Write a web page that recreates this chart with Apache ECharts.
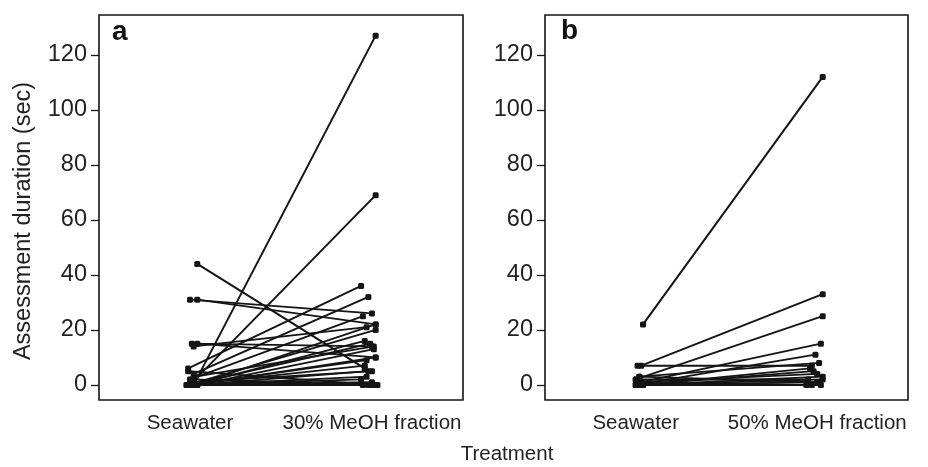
<!DOCTYPE html>
<html>
<head>
<meta charset="utf-8">
<script src="https://cdn.jsdelivr.net/npm/echarts@6/dist/echarts.min.js"></script>
<style>
  html, body { margin: 0; padding: 0; background: #fff; }
  #chart { width: 928px; height: 467px; }
</style>
</head>
<body>
<div id="chart"></div>
<script>
// panel a: seawater vs 30% MeOH fraction (one entry per animal)
const seawaterA = [0, 0, 44, 31, 31, 15, 15, 14, 6, 4, 2, 0, 0, 0, 0, 0, 0, 0, 0, 0, 0, 0, 0, 2, 1, 0, 3, 0, 5, 0];
const meohA     = [127, 69, 6, 26, 22, 14, 10, 21, 36, 32, 25, 22, 20, 16, 15, 13, 9, 7, 5, 2, 1, 0, 0, 0, 5, 10, 14, 0, 0, 3];
const jitterLeftA  = [0.02, 0.0, 0.04, 0.0, 0.04, 0.01, 0.04, 0.02, -0.01, 0.02, 0.0, 0.03, -0.01, 0.02, 0.0, 0.04, 0.01, -0.02, 0.03, 0.0, 0.02, -0.01, 0.03, 0.01, 0.0, 0.02, 0.03, 0.04, -0.01, 0.02];
const jitterRightA = [0.02, 0.02, -0.04, 0.0, 0.02, 0.0, 0.02, -0.03, -0.06, -0.02, -0.05, 0.02, 0.02, -0.04, -0.01, 0.01, -0.03, -0.04, -0.02, -0.06, 0.0, -0.05, 0.0, 0.03, 0.0, 0.02, 0.01, -0.02, 0.02, -0.03];

// panel b: seawater vs 50% MeOH fraction
const seawaterB = [22, 7, 2, 7, 1, 0, 3, 0, 1, 0, 2, 0, 0, 1, 0, 0, 3, 0];
const meohB     = [112, 33, 25, 7, 15, 11, 8, 6, 4, 3, 2, 1, 0, 0, 2, 0, 1, 5];
const jitterLeftB  = [0.04, 0.03, 0.0, 0.01, 0.03, 0.0, 0.02, 0.04, 0.01, 0.03, 0.0, 0.02, 0.04, 0.01, 0.03, 0.0, 0.02, 0.01];
const jitterRightB = [0.03, 0.03, 0.03, -0.03, 0.02, -0.01, 0.01, -0.04, 0.0, 0.03, -0.05, 0.01, 0.02, -0.03, 0.03, -0.06, 0.0, -0.02];

const labelsA = ['Seawater', '30% MeOH fraction'];
const labelsB = ['Seawater', '50% MeOH fraction'];
const yTicks = [0, 20, 40, 60, 80, 100, 120];

const font = 'Liberation Sans, Arial, Helvetica, sans-serif';
const ink = '#151515';

function makeXAxis(idx, labels) {
  return {
    type: 'value',
    gridIndex: idx,
    min: 0.5,
    max: 2.5,
    splitLine: { show: false },
    axisLine: { show: false },
    axisTick: { show: false },
    axisLabel: {
      customValues: [1, 2],
      formatter: v => labels[Math.round(v) - 1],
      color: '#222',
      fontSize: 20.5,
      fontFamily: font,
      margin: 13
    }
  };
}

function makeYAxis(idx) {
  return {
    type: 'value',
    gridIndex: idx,
    min: -5.5,
    max: 134.5,
    splitLine: { show: false },
    axisLine: { show: false },
    axisTick: {
      show: true,
      customValues: yTicks,
      length: 8,
      lineStyle: { color: ink, width: 1.3 }
    },
    axisLabel: {
      customValues: yTicks,
      color: '#222',
      fontSize: 23.5,
      fontFamily: font,
      margin: 12
    }
  };
}

function pairSeries(idx, left, right, jl, jr) {
  return left.map((v, j) => ({
    type: 'line',
    xAxisIndex: idx,
    yAxisIndex: idx,
    data: [[1 + jl[j], v], [2 + jr[j], right[j]]],
    symbol: 'roundRect',
    symbolSize: 6,
    showSymbol: true,
    lineStyle: { color: ink, width: 2 },
    itemStyle: { color: ink },
    silent: true
  }));
}

const chart = echarts.init(document.getElementById('chart'));
chart.setOption({
  animation: false,
  backgroundColor: '#fff',
  grid: [
    { left: 99, right: 465, top: 15, bottom: 67, show: true, borderColor: ink, borderWidth: 1.6, backgroundColor: 'transparent' },
    { left: 545, right: 20, top: 15, bottom: 67, show: true, borderColor: ink, borderWidth: 1.6, backgroundColor: 'transparent' }
  ],
  xAxis: [makeXAxis(0, labelsA), makeXAxis(1, labelsB)],
  yAxis: [makeYAxis(0), makeYAxis(1)],
  series: [
    ...pairSeries(0, seawaterA, meohA, jitterLeftA, jitterRightA),
    ...pairSeries(1, seawaterB, meohB, jitterLeftB, jitterRightB)
  ],
  graphic: [
    { type: 'text', left: 112, top: 18, style: { text: 'a', font: 'bold 28px ' + font, fill: '#111' } },
    { type: 'text', left: 561, top: 17, style: { text: 'b', font: 'bold 28px ' + font, fill: '#111' } },
    {
      type: 'text',
      x: 507, y: 454,
      style: { text: 'Treatment', font: '20.5px ' + font, fill: '#222', align: 'center', verticalAlign: 'middle' }
    },
    {
      type: 'text',
      x: 24, y: 221,
      rotation: Math.PI / 2,
      style: { text: 'Assessment duration (sec)', font: '23.5px ' + font, fill: '#222', align: 'center', verticalAlign: 'middle' }
    }
  ]
});
</script>
</body>
</html>
